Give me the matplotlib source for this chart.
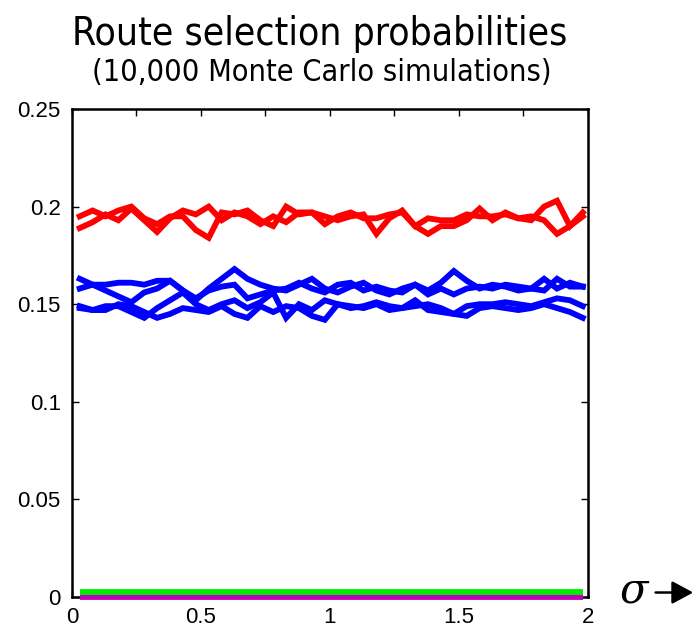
import matplotlib
matplotlib.use("Agg")
import matplotlib.pyplot as plt
from matplotlib.ticker import FixedLocator
from matplotlib.patches import FancyArrowPatch

plt.rcParams['font.family'] = ['Liberation Sans', 'DejaVu Sans']

# noise level sigma at which each set of simulations was run
sigma = [0.03, 0.08, 0.13, 0.18, 0.23, 0.28, 0.33, 0.38, 0.43, 0.48,
         0.53, 0.58, 0.63, 0.68, 0.73, 0.78, 0.83, 0.88, 0.93, 0.98,
         1.03, 1.08, 1.13, 1.18, 1.23, 1.28, 1.33, 1.38, 1.43, 1.48,
         1.53, 1.58, 1.63, 1.68, 1.73, 1.78, 1.83, 1.88, 1.93, 1.98]

# most frequently selected routes
red_1 = [0.195, 0.198, 0.195, 0.198, 0.200, 0.194, 0.191, 0.195, 0.195, 0.188,
         0.184, 0.197, 0.196, 0.198, 0.193, 0.190, 0.200, 0.196, 0.197, 0.191,
         0.195, 0.197, 0.194, 0.194, 0.196, 0.197, 0.190, 0.194, 0.193, 0.193,
         0.196, 0.195, 0.195, 0.196, 0.194, 0.193, 0.200, 0.203, 0.190, 0.197]
red_2 = [0.189, 0.192, 0.196, 0.193, 0.199, 0.193, 0.187, 0.194, 0.198, 0.196,
         0.200, 0.193, 0.197, 0.195, 0.191, 0.195, 0.192, 0.197, 0.197, 0.195,
         0.193, 0.195, 0.196, 0.186, 0.194, 0.198, 0.190, 0.186, 0.190, 0.190,
         0.193, 0.199, 0.193, 0.197, 0.194, 0.195, 0.193, 0.186, 0.190, 0.195]

# second group of routes
blue_1 = [0.163, 0.160, 0.157, 0.154, 0.151, 0.156, 0.158, 0.162, 0.157, 0.152,
          0.158, 0.163, 0.168, 0.163, 0.160, 0.158, 0.157, 0.160, 0.163, 0.158,
          0.156, 0.159, 0.161, 0.157, 0.155, 0.158, 0.160, 0.157, 0.161, 0.167,
          0.162, 0.158, 0.160, 0.159, 0.157, 0.158, 0.157, 0.163, 0.159, 0.159]
blue_2 = [0.158, 0.160, 0.160, 0.161, 0.161, 0.160, 0.162, 0.162, 0.157, 0.153,
          0.157, 0.159, 0.160, 0.153, 0.155, 0.157, 0.158, 0.161, 0.158, 0.156,
          0.160, 0.161, 0.157, 0.159, 0.157, 0.156, 0.160, 0.155, 0.158, 0.155,
          0.158, 0.159, 0.158, 0.160, 0.159, 0.158, 0.163, 0.158, 0.161, 0.159]
blue_3 = [0.149, 0.147, 0.149, 0.149, 0.146, 0.143, 0.148, 0.152, 0.156, 0.150,
          0.147, 0.150, 0.152, 0.148, 0.151, 0.156, 0.143, 0.150, 0.147, 0.152,
          0.150, 0.149, 0.148, 0.150, 0.147, 0.148, 0.152, 0.147, 0.146, 0.145,
          0.149, 0.150, 0.150, 0.151, 0.150, 0.149, 0.151, 0.153, 0.152, 0.149]
blue_4 = [0.148, 0.147, 0.147, 0.150, 0.149, 0.146, 0.143, 0.145, 0.148, 0.147,
          0.146, 0.149, 0.145, 0.143, 0.149, 0.146, 0.149, 0.148, 0.144, 0.142,
          0.150, 0.148, 0.149, 0.151, 0.149, 0.148, 0.149, 0.150, 0.148, 0.145,
          0.144, 0.148, 0.149, 0.148, 0.147, 0.148, 0.150, 0.148, 0.146, 0.143]

# routes that are practically never chosen
green_0 = [0.0028] * len(sigma)
magenta_0 = [0.0] * len(sigma)

x_ticks = [0, 0.5, 1, 1.5, 2]
x_tick_labels = ["0", "0.5", "1", "1.5", "2"]
y_ticks = [0, 0.05, 0.1, 0.15, 0.2, 0.25]
y_tick_labels = ["0", "0.05", "0.1", "0.15", "0.2", "0.25"]

fig = plt.figure(figsize=(6.96, 6.27), dpi=100)
ax = fig.add_axes([0.1034, 0.0478, 0.7414, 0.7784])

lw = 4.2
ax.plot(sigma, magenta_0, color="#c000c0", lw=lw, solid_capstyle="butt",
        clip_on=False, zorder=5)
ax.plot(sigma, green_0, color="#00ee00", lw=lw, solid_capstyle="butt",
        clip_on=False, zorder=5)
for ys in (blue_1, blue_2, blue_3, blue_4):
    ax.plot(sigma, ys, color="#0000ff", lw=lw, solid_joinstyle="miter")
for ys in (red_1, red_2):
    ax.plot(sigma, ys, color="#ff0000", lw=lw, solid_joinstyle="miter")

ax.set_xlim(0, 2)
ax.set_ylim(0, 0.25)
ax.set_xticks(x_ticks)
ax.set_xticklabels(x_tick_labels)
ax.xaxis.set_minor_locator(FixedLocator([0.25, 0.75, 1.25, 1.75]))
ax.set_yticks(y_ticks)
ax.set_yticklabels(y_tick_labels)
ax.tick_params(axis="both", which="both", direction="in", top=True, right=True,
               labelsize=16, width=1.0, length=5)
ax.tick_params(axis="x", which="major", pad=7)
ax.tick_params(axis="y", which="major", pad=8)
for sp in ax.spines.values():
    sp.set_linewidth(1.8)

title_font = dict(family=["DejaVu Sans"], fontstretch="condensed")
fig.text(0.46, 0.946, "Route selection probabilities", ha="center", va="center",
         fontsize=28, **title_font)
fig.text(0.462, 0.884, "(10,000 Monte Carlo simulations)", ha="center", va="center",
         fontsize=22, **title_font)

# sigma with arrow at the end of the x axis
fig.text(0.889, 0.057, r"$\sigma$", ha="left", va="center", fontsize=30,
         math_fontfamily="dejavuserif")
fig.add_artist(FancyArrowPatch(
    (0.938, 0.055), (1.0, 0.055), transform=fig.transFigure,
    arrowstyle="-|>,head_length=13,head_width=7", lw=1.8, color="black",
    mutation_scale=1))

fig.savefig("out.png", dpi=100)
